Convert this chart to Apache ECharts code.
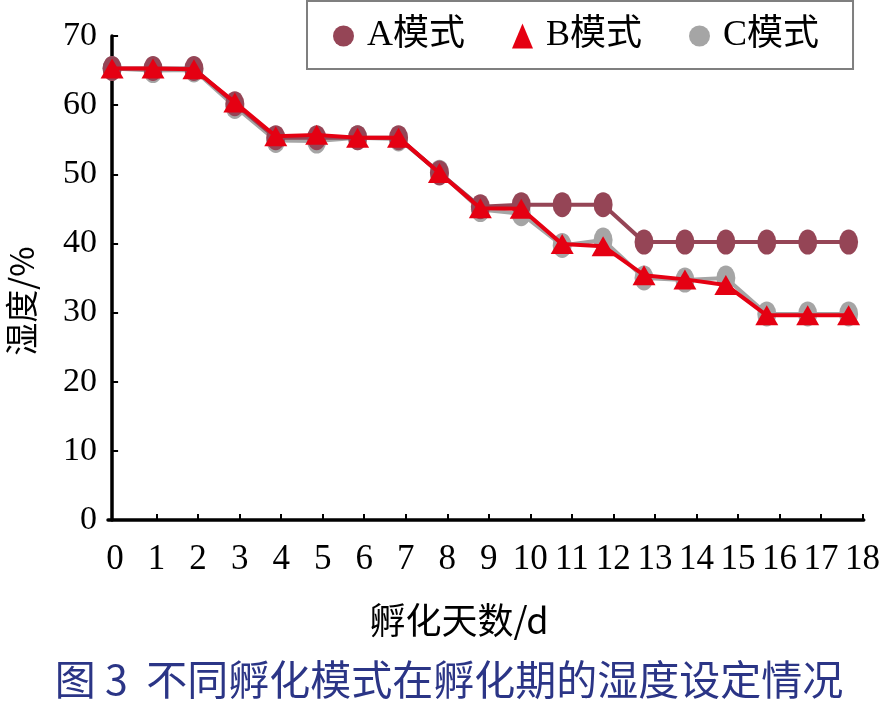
<!DOCTYPE html>
<html>
<head>
<meta charset="utf-8">
<script src="https://cdn.jsdelivr.net/npm/echarts@6/dist/echarts.min.js"></script>
<style>html,body{margin:0;padding:0;background:#fff}#c{width:883px;height:705px}</style>
</head>
<body>
<div id="c"></div>
<script>
const days = [0,1,2,3,4,5,6,7,8,9,10,11,12,13,14,15,16,17,18];
const tickLabels = ['0','1','2','3','4','5','6','7','8','9','10','11','12','13','14','15','16','17','18'];
const seriesA = [65.3,65.3,65.3,60.2,55.3,55.3,55.3,55.3,50.2,45.3,45.6,45.6,45.6,40.2,40.2,40.2,40.2,40.2,40.2];
const seriesB = [65.3,65.3,65.2,60.4,55.5,55.7,55.3,55.3,50.2,45.1,45.0,39.9,39.6,35.4,34.8,34.0,29.6,29.6,29.6];
const seriesC = [65.3,65.0,65.1,59.8,54.9,54.8,55.3,55.1,50.3,44.9,44.3,39.7,40.5,35.0,34.7,35.0,29.8,29.8,29.8];
const yTicks = [0,10,20,30,40,50,60,70];
const names = ['A模式','B模式','C模式'];

const serif = '"Liberation Serif", "Noto Sans CJK SC", serif';
const cjk = '"Noto Sans CJK SC", sans-serif';

const chart = echarts.init(document.getElementById('c'), null, {renderer: 'canvas'});
const pair = arr => days.map((d, i) => [d, arr[i]]);
chart.setOption({
  animation: false,
  backgroundColor: '#fff',
  grid: {left: 108, right: 17, top: 36, bottom: 185, containLabel: false},
  legend: {
    left: 307, top: 1,
    padding: [17, 34, 15, 26],
    borderColor: '#7f7f7f', borderWidth: 2,
    itemWidth: 21, itemHeight: 25, itemGap: 47,
    textStyle: {fontSize: 36, fontFamily: serif, color: '#000', padding: [0, 0, 0, 8]},
    data: [
      {name: names[0], icon: 'circle'},
      {name: names[1], icon: 'triangle'},
      {name: names[2], icon: 'circle'}
    ]
  },
  xAxis: [
    {type: 'value', min: -0.1, max: 18.37, show: false},
    {
      type: 'value', min: -0.17, max: 18.03, position: 'bottom',
      axisLine: {show: true, onZero: false, lineStyle: {color: '#000', width: 3.5}},
      axisTick: {show: true, inside: true, length: 6, lineStyle: {color: '#000', width: 2},
                 customValues: days.slice(1)},
      axisLabel: {show: true, fontSize: 35, fontFamily: serif, color: '#000', margin: 22,
                  customValues: days, formatter: v => tickLabels[Math.round(v)]},
      splitLine: {show: false}
    }
  ],
  yAxis: {
    type: 'value', min: 0, max: 70, interval: 10,
    axisLine: {show: true, lineStyle: {color: '#000', width: 3.5}},
    axisTick: {show: true, inside: true, length: 6, lineStyle: {color: '#000', width: 2}},
    axisLabel: {fontSize: 34, fontFamily: serif, color: '#000', margin: 11,
                formatter: v => yTicks.includes(v) ? String(v) : ''},
    splitLine: {show: false}
  },
  graphic: [
    {type: 'text', x: 21, y: 301, rotation: Math.PI / 2,
     style: {text: '湿度/%', font: '33px ' + cjk, fill: '#000', textAlign: 'center', textVerticalAlign: 'middle'}},
    {type: 'text', x: 459, y: 620,
     style: {text: '孵化天数/d', font: '36px ' + cjk, fill: '#000', textAlign: 'center', textVerticalAlign: 'middle'}},
    {type: 'text', x: 449, y: 679,
     style: {text: '图 3  不同孵化模式在孵化期的湿度设定情况', font: '41px ' + cjk, fill: '#2b3586', textAlign: 'center', textVerticalAlign: 'middle'}}
  ],
  series: [
    {name: names[0], type: 'line', xAxisIndex: 0, data: pair(seriesA), z: 3,
     symbol: 'circle', symbolSize: [19, 25], showAllSymbol: true,
     itemStyle: {color: '#954556'}, lineStyle: {color: '#954556', width: 4}},
    {name: names[2], type: 'line', xAxisIndex: 0, data: pair(seriesC), z: 2,
     symbol: 'circle', symbolSize: [19, 25], showAllSymbol: true,
     itemStyle: {color: '#a5a5a5'}, lineStyle: {color: '#a5a5a5', width: 4}},
    {name: names[1], type: 'line', xAxisIndex: 0, data: pair(seriesB), z: 4,
     symbol: 'triangle', symbolSize: [23, 20], showAllSymbol: true,
     itemStyle: {color: '#e50012'}, lineStyle: {color: '#e50012', width: 4}}
  ]
});
</script>
</body>
</html>
